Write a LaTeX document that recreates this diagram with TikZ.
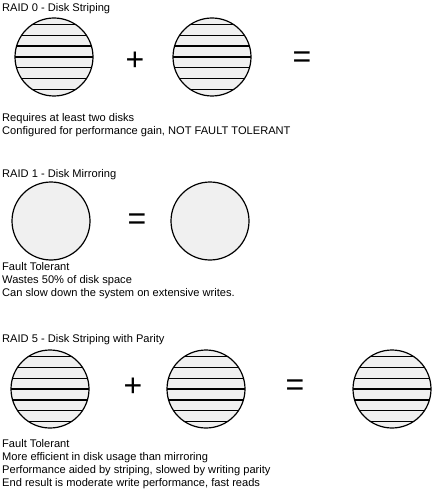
\documentclass[tikz,border=0pt]{standalone}
\usepackage{fontspec}
\setmainfont{Liberation Sans}

\begin{document}
\begin{tikzpicture}[x=1pt,y=-1pt]
\tikzstyle{disk}=[draw,circle,fill=gray!12,line width=1.2pt,minimum size=78pt,inner sep=0]
\tikzstyle{striped}=[disk,path picture={\foreach \k in {-3,...,3} \draw[line width=1.2pt] ([yshift=\k*10.9pt]path picture bounding box.west) -- ([yshift=\k*10.9pt]path picture bounding box.east);}]
\tikzstyle{sign}=[font=\fontsize{32}{32}\selectfont,inner sep=0]
\tikzstyle{note}=[anchor=north west,align=left,inner sep=0,font=\fontsize{11.1}{13}\selectfont]
\useasboundingbox (0,0) rectangle (432,497);
% RAID 0
\node[note] (title0) at (2,3) {RAID 0 - Disk Striping};
\node[striped] (a1) at (54,57) {};
\node[sign] (plus0) at (135,61) {+};
\node[striped] (a2) at (212,57) {};
\node[sign] (eq0) at (302,60) {=};
\node[note] (text0) at (2,113) {Requires at least two disks\\Configured for performance gain, NOT FAULT TOLERANT};
% RAID 1
\node[note] (title1) at (2,169) {RAID 1 - Disk Mirroring};
\node[disk] (b1) at (51,221) {};
\node[sign] (eq1) at (137,222) {=};
\node[disk] (b2) at (210,221) {};
\node[note] (text1) at (2,262) {Fault Tolerant\\Wastes 50\% of disk space\\Can slow down the system on extensive writes.};
% RAID 5
\node[note] (title5) at (2,334) {RAID 5 - Disk Striping with Parity};
\node[striped] (c1) at (50,389) {};
\node[sign] (plus5) at (133,387) {+};
\node[striped] (c2) at (206,389) {};
\node[sign] (eq5) at (295,388) {=};
\node[striped] (c3) at (392,389) {};
\node[note] (text5) at (2,439) {Fault Tolerant\\More efficient in disk usage than mirroring\\Performance aided by striping, slowed by writing parity\\End result is moderate write performance, fast reads};
\end{tikzpicture}
\end{document}
